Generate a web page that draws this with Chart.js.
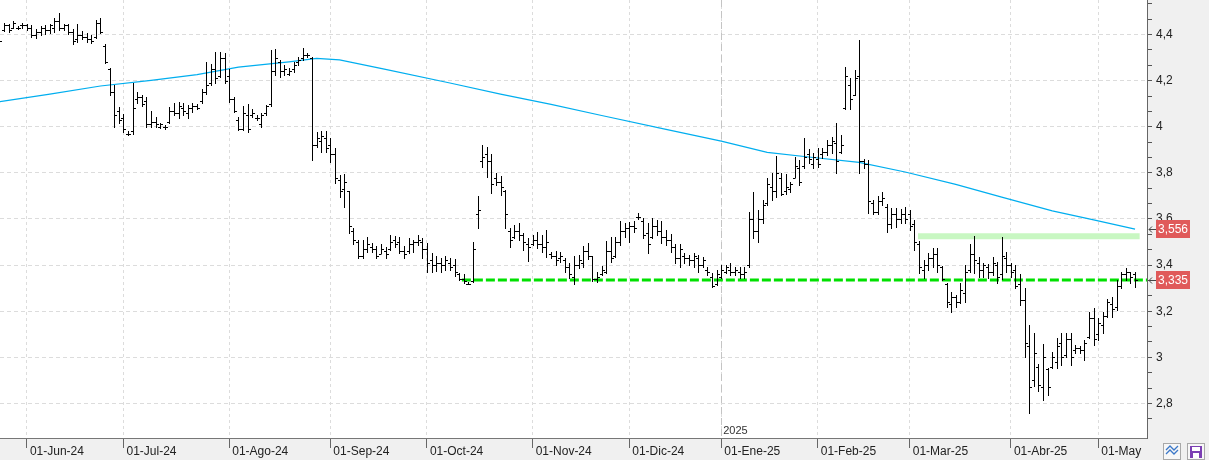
<!DOCTYPE html>
<html>
<head>
<meta charset="utf-8">
<script src="https://cdn.jsdelivr.net/npm/chart.js@4.4.1/dist/chart.umd.min.js"></script>
<style>
  html, body { margin: 0; padding: 0; background: #fff; }
  canvas { display: block; }
</style>
</head>
<body>
<canvas id="chart" width="1209" height="460"></canvas>
<script>
// daily bars, one per trading day (index 0 = 24-May-24)
const highs = [
  4.385, 4.45, 4.446, 4.459, 4.437, 4.45, 4.446, 4.442, 4.424, 4.437,
  4.442, 4.446, 4.472, 4.494, 4.446, 4.446, 4.424, 4.446, 4.416, 4.407,
  4.398, 4.463, 4.472, 4.36, 4.255, 4.181, 4.086, 4.055, 3.98, 4.19,
  4.15, 4.14, 4.129, 4.068, 4.042, 4.016, 4.008, 4.086, 4.103, 4.107,
  4.103, 4.094, 4.103, 4.099, 4.164, 4.281, 4.272, 4.324, 4.324, 4.32,
  4.25, 4.129, 4.042, 4.09, 4.099, 4.077, 4.051, 4.06, 4.094, 4.333,
  4.337, 4.29, 4.268, 4.255, 4.281, 4.303, 4.342, 4.32, 4.303, 3.977,
  3.981, 3.981, 3.951, 3.908, 3.79, 3.795, 3.721, 3.561, 3.509, 3.509,
  3.522, 3.496, 3.483, 3.491, 3.478, 3.53, 3.526, 3.522, 3.483, 3.517,
  3.509, 3.53, 3.517, 3.496, 3.452, 3.44, 3.43, 3.44, 3.43, 3.426,
  3.365, 3.361, 3.326, 3.5, 3.7, 3.921, 3.912, 3.882, 3.8, 3.786,
  3.726, 3.56, 3.574, 3.582, 3.539, 3.517, 3.53, 3.543, 3.53, 3.552,
  3.457, 3.461, 3.457, 3.43, 3.409, 3.44, 3.444, 3.483, 3.496, 3.44,
  3.37, 3.396, 3.504, 3.522, 3.522, 3.591, 3.582, 3.587, 3.591, 3.626,
  3.604, 3.582, 3.604, 3.595, 3.591, 3.552, 3.535, 3.491, 3.491, 3.452,
  3.444, 3.452, 3.444, 3.435, 3.391, 3.365, 3.378, 3.4, 3.4, 3.409,
  3.391, 3.391, 3.391, 3.63, 3.717, 3.639, 3.682, 3.78, 3.8, 3.873,
  3.8, 3.795, 3.76, 3.869, 3.856, 3.951, 3.903, 3.886, 3.908, 3.908,
  3.942, 3.955, 4.016, 3.964, 4.259, 4.212, 4.246, 4.376, 3.86, 3.856,
  3.682, 3.7, 3.717, 3.665, 3.647, 3.647, 3.643, 3.652, 3.639, 3.595,
  3.504, 3.422, 3.452, 3.474, 3.474, 3.396, 3.322, 3.283, 3.27, 3.322,
  3.4, 3.491, 3.526, 3.435, 3.409, 3.404, 3.435, 3.413, 3.522, 3.457,
  3.409, 3.4, 3.361, 3.3, 3.14, 3.105, 2.97, 3.057, 2.953, 3.023,
  3.084, 3.105, 3.105, 3.105, 3.053, 3.05, 3.075, 3.196, 3.214, 3.17,
  3.196, 3.253, 3.261, 3.335, 3.37, 3.387, 3.37, 3.37
];
const lows = [
  4.36, 4.415, 4.411, 4.429, 4.424, 4.429, 4.42, 4.39, 4.385, 4.398,
  4.403, 4.407, 4.411, 4.42, 4.42, 4.403, 4.359, 4.368, 4.381, 4.368,
  4.363, 4.385, 4.407, 4.277, 4.138, 4.0, 4.016, 3.977, 3.964, 3.97,
  4.103, 4.09, 4.0, 4.0, 4.0, 3.995, 3.99, 4.016, 4.051, 4.038,
  4.051, 4.038, 4.064, 4.077, 4.103, 4.142, 4.181, 4.19, 4.216, 4.19,
  4.107, 4.064, 3.986, 3.986, 3.977, 4.042, 4.03, 4.0, 4.051, 4.09,
  4.225, 4.216, 4.225, 4.225, 4.238, 4.268, 4.29, 4.303, 3.856, 3.912,
  3.89, 3.89, 3.847, 3.756, 3.695, 3.652, 3.54, 3.492, 3.43, 3.43,
  3.457, 3.457, 3.43, 3.452, 3.43, 3.465, 3.478, 3.452, 3.43, 3.452,
  3.457, 3.487, 3.43, 3.37, 3.37, 3.374, 3.37, 3.378, 3.378, 3.352,
  3.335, 3.322, 3.318, 3.326, 3.56, 3.826, 3.782, 3.713, 3.747, 3.704,
  3.56, 3.478, 3.517, 3.509, 3.465, 3.418, 3.487, 3.474, 3.457, 3.435,
  3.43, 3.4, 3.413, 3.37, 3.344, 3.318, 3.387, 3.391, 3.426, 3.331,
  3.326, 3.357, 3.365, 3.413, 3.435, 3.487, 3.522, 3.5, 3.543, 3.6,
  3.517, 3.452, 3.517, 3.53, 3.496, 3.487, 3.457, 3.409, 3.391, 3.409,
  3.4, 3.391, 3.37, 3.391, 3.357, 3.305, 3.313, 3.344, 3.365, 3.357,
  3.357, 3.344, 3.344, 3.391, 3.517, 3.5, 3.582, 3.66, 3.682, 3.695,
  3.704, 3.708, 3.717, 3.782, 3.747, 3.821, 3.843, 3.821, 3.826, 3.864,
  3.877, 3.886, 3.8, 3.886, 4.077, 4.077, 4.138, 3.8, 3.82, 3.626,
  3.621, 3.621, 3.66, 3.543, 3.561, 3.565, 3.582, 3.582, 3.552, 3.465,
  3.365, 3.344, 3.378, 3.391, 3.37, 3.335, 3.218, 3.196, 3.218, 3.235,
  3.24, 3.37, 3.365, 3.348, 3.348, 3.344, 3.357, 3.322, 3.339, 3.37,
  3.348, 3.3, 3.226, 3.0, 2.757, 2.875, 2.853, 2.814, 2.836, 2.953,
  2.953, 2.966, 3.0, 2.966, 3.018, 3.02, 2.988, 3.084, 3.053, 3.075,
  3.105, 3.174, 3.174, 3.205, 3.3, 3.335, 3.322, 3.305
];
const opens = [
  4.37, 4.42, 4.44, 4.43, 4.43, 4.44, 4.44, 4.43, 4.40, 4.41,
  4.43, 4.42, 4.43, 4.46, 4.43, 4.44, 4.41, 4.38, 4.40, 4.39,
  4.38, 4.39, 4.45, 4.35, 4.25, 4.15, 4.07, 4.04, 3.97, 3.98,
  4.12, 4.13, 4.11, 4.01, 4.02, 4.00, 4.00, 4.02, 4.07, 4.06,
  4.08, 4.06, 4.08, 4.09, 4.11, 4.15, 4.19, 4.25, 4.22, 4.30,
  4.22, 4.12, 4.03, 3.99, 4.05, 4.05, 4.04, 4.01, 4.06, 4.10,
  4.24, 4.28, 4.24, 4.23, 4.25, 4.28, 4.30, 4.31, 4.30, 3.92,
  3.94, 3.95, 3.92, 3.88, 3.77, 3.73, 3.72, 3.55, 3.50, 3.44,
  3.47, 3.48, 3.47, 3.45, 3.46, 3.47, 3.51, 3.50, 3.46, 3.46,
  3.49, 3.50, 3.50, 3.47, 3.42, 3.40, 3.41, 3.40, 3.41, 3.40,
  3.36, 3.34, 3.32, 3.33, 3.62, 3.85, 3.88, 3.85, 3.78, 3.76,
  3.72, 3.55, 3.52, 3.55, 3.53, 3.49, 3.49, 3.51, 3.49, 3.48,
  3.45, 3.44, 3.43, 3.42, 3.39, 3.35, 3.40, 3.41, 3.46, 3.44,
  3.34, 3.36, 3.37, 3.46, 3.44, 3.50, 3.55, 3.56, 3.57, 3.61,
  3.59, 3.54, 3.52, 3.57, 3.55, 3.52, 3.51, 3.48, 3.43, 3.44,
  3.43, 3.42, 3.43, 3.40, 3.38, 3.35, 3.32, 3.35, 3.37, 3.38,
  3.37, 3.37, 3.36, 3.40, 3.60, 3.55, 3.60, 3.67, 3.74, 3.72,
  3.78, 3.72, 3.73, 3.78, 3.82, 3.83, 3.88, 3.84, 3.86, 3.88,
  3.89, 3.92, 3.93, 3.89, 4.08, 4.18, 4.14, 4.22, 3.85, 3.84,
  3.67, 3.63, 3.68, 3.65, 3.58, 3.62, 3.60, 3.62, 3.62, 3.58,
  3.49, 3.38, 3.40, 3.43, 3.45, 3.39, 3.32, 3.23, 3.26, 3.24,
  3.28, 3.38, 3.45, 3.41, 3.38, 3.39, 3.37, 3.40, 3.36, 3.43,
  3.40, 3.38, 3.32, 3.25, 3.05, 2.90, 2.96, 2.87, 2.95, 2.96,
  2.98, 3.06, 3.01, 3.08, 3.03, 3.04, 3.03, 3.09, 3.17, 3.10,
  3.14, 3.18, 3.23, 3.22, 3.31, 3.36, 3.37, 3.36
];
const closes = [
  4.37, 4.44, 4.42, 4.45, 4.43, 4.44, 4.43, 4.40, 4.41, 4.43,
  4.42, 4.44, 4.46, 4.43, 4.44, 4.41, 4.37, 4.40, 4.39, 4.38,
  4.37, 4.45, 4.41, 4.28, 4.15, 4.05, 4.03, 3.99, 3.97, 4.08,
  4.13, 4.10, 4.01, 4.02, 4.01, 4.01, 4.00, 4.07, 4.06, 4.09,
  4.07, 4.08, 4.09, 4.08, 4.15, 4.18, 4.25, 4.21, 4.30, 4.20,
  4.12, 4.07, 3.99, 4.06, 3.99, 4.06, 4.04, 4.05, 4.09, 4.24,
  4.30, 4.24, 4.25, 4.24, 4.27, 4.29, 4.31, 4.31, 3.92, 3.95,
  3.96, 3.91, 3.88, 3.78, 3.72, 3.76, 3.57, 3.51, 3.44, 3.47,
  3.49, 3.47, 3.44, 3.47, 3.45, 3.50, 3.49, 3.46, 3.45, 3.49,
  3.50, 3.51, 3.47, 3.41, 3.40, 3.41, 3.40, 3.42, 3.39, 3.37,
  3.34, 3.33, 3.32, 3.47, 3.64, 3.87, 3.85, 3.75, 3.76, 3.74,
  3.62, 3.51, 3.55, 3.53, 3.50, 3.48, 3.51, 3.49, 3.48, 3.50,
  3.44, 3.42, 3.44, 3.39, 3.36, 3.40, 3.42, 3.46, 3.44, 3.34,
  3.35, 3.38, 3.46, 3.43, 3.50, 3.55, 3.56, 3.57, 3.56, 3.61,
  3.53, 3.49, 3.57, 3.55, 3.52, 3.51, 3.48, 3.43, 3.47, 3.43,
  3.42, 3.44, 3.40, 3.42, 3.37, 3.31, 3.36, 3.38, 3.39, 3.37,
  3.38, 3.36, 3.37, 3.60, 3.55, 3.60, 3.66, 3.75, 3.72, 3.80,
  3.71, 3.74, 3.75, 3.83, 3.76, 3.87, 3.86, 3.87, 3.84, 3.89,
  3.92, 3.94, 3.85, 3.92, 4.22, 4.12, 4.21, 3.85, 3.84, 3.68,
  3.63, 3.68, 3.69, 3.58, 3.62, 3.60, 3.62, 3.60, 3.57, 3.50,
  3.39, 3.40, 3.43, 3.45, 3.40, 3.34, 3.24, 3.26, 3.24, 3.29,
  3.37, 3.45, 3.42, 3.38, 3.40, 3.37, 3.41, 3.35, 3.44, 3.40,
  3.37, 3.31, 3.25, 3.06, 2.87, 3.02, 2.88, 3.00, 2.87, 3.00,
  3.05, 3.00, 3.08, 3.00, 3.04, 3.03, 3.06, 3.17, 3.08, 3.15,
  3.18, 3.24, 3.21, 3.31, 3.36, 3.37, 3.35, 3.335
];

// moving average read at a few bar indexes
const maIndex = [0, 11, 22, 33, 43, 52, 63, 69, 74, 84, 98, 109, 120, 131, 145, 157, 167, 176, 187, 197, 208, 218, 229, 238, 247];
const maValues = [4.109, 4.142, 4.177, 4.201, 4.226, 4.259, 4.282, 4.297, 4.29, 4.249, 4.19, 4.142, 4.097, 4.049, 3.989, 3.938, 3.889, 3.869, 3.846, 3.804, 3.75, 3.695, 3.635, 3.596, 3.556];

const monthTicks = [6, 27, 50, 72, 93, 116, 137, 157, 178, 198, 220, 239];
const monthLabels = ['01-Jun-24', '01-Jul-24', '01-Ago-24', '01-Sep-24', '01-Oct-24', '01-Nov-24', '01-Dic-24', '01-Ene-25', '01-Feb-25', '01-Mar-25', '01-Abr-25', '01-May'];
const yearTick = 157;
const yearLabel = '2025';
const yMajor = [2.8, 3, 3.2, 3.4, 3.6, 3.8, 4, 4.2, 4.4];

const supportLevel = 3.335, supportFrom = 100.6;
const resistLevel = 3.525, resistFrom = 199.8, resistTo = 248;
const lastMa = 3.556, lastClose = 3.335;

const FONT = "'Liberation Sans', Arial, sans-serif";
const isMajor = v => yMajor.some(m => Math.abs(m - v) < 1e-6);
const fmt = v => String(+v.toFixed(3)).replace('.', ',');

const bgPlugin = {
  id: 'bg',
  beforeDraw(chart) {
    const { ctx, chartArea: a } = chart;
    ctx.save();
    ctx.fillStyle = '#f0f0f0';
    ctx.fillRect(0, 0, chart.width, chart.height);
    ctx.fillStyle = '#ffffff';
    ctx.fillRect(a.left, a.top, a.right - a.left, a.bottom - a.top);
    ctx.restore();
  },
  beforeDatasetsDraw(chart) {
    // year separator
    const { ctx, chartArea: a } = chart;
    const x = Math.round(chart.scales.x.getPixelForValue(yearTick)) + 0.5;
    ctx.save();
    ctx.strokeStyle = '#c4c4c4';
    ctx.setLineDash([7, 4]);
    ctx.beginPath();
    ctx.moveTo(x, a.top);
    ctx.lineTo(x, a.bottom);
    ctx.stroke();
    ctx.restore();
  }
};

const ohlcPlugin = {
  id: 'ohlc',
  afterDatasetsDraw(chart) {
    const { ctx, chartArea: a } = chart;
    const xs = chart.scales.x, ys = chart.scales.y;
    ctx.save();
    ctx.beginPath();
    ctx.rect(a.left, a.top, a.right - a.left, a.bottom - a.top);
    ctx.clip();
    ctx.strokeStyle = '#000';
    ctx.lineWidth = 1;
    ctx.beginPath();
    for (let i = 0; i < highs.length; i++) {
      const x = Math.round(xs.getPixelForValue(i)) + 0.5;
      const yh = Math.round(ys.getPixelForValue(highs[i]));
      const yl = Math.round(ys.getPixelForValue(lows[i]));
      const yo = Math.round(ys.getPixelForValue(opens[i])) + 0.5;
      const yc = Math.round(ys.getPixelForValue(closes[i])) + 0.5;
      ctx.moveTo(x, yh);
      ctx.lineTo(x, Math.max(yl, yh + 1) + 1);
      ctx.moveTo(x - 2.5, yo);
      ctx.lineTo(x, yo);
      ctx.moveTo(x, yc);
      ctx.lineTo(x + 2.5, yc);
    }
    ctx.stroke();
    ctx.restore();
  },
  afterDraw(chart) {
    const { ctx, chartArea: a } = chart;
    const xs = chart.scales.x, ys = chart.scales.y;
    ctx.save();
    // month labels
    ctx.fillStyle = '#222';
    ctx.font = '12px ' + FONT;
    ctx.textAlign = 'left';
    ctx.textBaseline = 'middle';
    monthTicks.forEach((t, i) => {
      ctx.fillText(monthLabels[i], xs.getPixelForValue(t) + 3, a.bottom + 14);
    });
    ctx.font = '11px ' + FONT;
    ctx.fillStyle = '#333';
    ctx.fillText(yearLabel, xs.getPixelForValue(yearTick) + 2, a.bottom - 7);

    // price tags on the axis
    [lastMa, lastClose].forEach(v => {
      const y = Math.round(ys.getPixelForValue(v));
      ctx.strokeStyle = '#444';
      ctx.lineWidth = 1;
      ctx.beginPath();
      ctx.moveTo(a.right + 2, y + 0.5);
      ctx.lineTo(a.right + 9, y + 0.5);
      ctx.moveTo(a.right + 5, y - 2.5);
      ctx.lineTo(a.right + 2, y + 0.5);
      ctx.lineTo(a.right + 5, y + 3.5);
      ctx.stroke();
      ctx.fillStyle = '#e05a5a';
      ctx.fillRect(a.right + 9, y - 9, 34, 18);
      ctx.fillStyle = '#fff';
      ctx.font = '12px ' + FONT;
      ctx.textAlign = 'center';
      ctx.fillText(fmt(v), a.right + 26, y + 1);
    });

    // small buttons in the corner
    const by = a.bottom + 5;
    ctx.fillStyle = '#f7f7f7';
    ctx.strokeStyle = '#a8a8a8';
    ctx.fillRect(1163.5, by + 0.5, 17, 16);
    ctx.strokeRect(1163.5, by + 0.5, 17, 16);
    ctx.fillRect(1187.5, by + 0.5, 17, 16);
    ctx.strokeRect(1187.5, by + 0.5, 17, 16);
    ctx.strokeStyle = '#3b78c8';
    ctx.lineWidth = 1.3;
    [5, 9].forEach(d => {
      ctx.beginPath();
      ctx.moveTo(1166, by + d + 2);
      ctx.lineTo(1170, by + d - 2);
      ctx.lineTo(1174, by + d + 2);
      ctx.lineTo(1178, by + d - 2);
      ctx.stroke();
    });
    ctx.fillStyle = '#7b3fb3';
    ctx.fillRect(1190, by + 3, 12, 12);
    ctx.fillStyle = '#fff';
    ctx.fillRect(1192, by + 4, 8, 4);
    ctx.fillRect(1193, by + 10, 6, 5);
    ctx.restore();
  }
};

new Chart(document.getElementById('chart'), {
  type: 'line',
  data: {
    datasets: [
      {
        data: [{ x: resistFrom, y: resistLevel }, { x: resistTo, y: resistLevel }],
        borderColor: '#c8f7c2', borderWidth: 6, pointRadius: 0
      },
      {
        data: [{ x: supportFrom, y: supportLevel }, { x: 249.6, y: supportLevel }],
        borderColor: '#00e000', borderWidth: 3, borderDash: [9, 3], pointRadius: 0
      },
      {
        data: maIndex.map((x, i) => ({ x: x, y: maValues[i] })),
        borderColor: '#00aeef', borderWidth: 1.2, pointRadius: 0, tension: 0
      }
    ]
  },
  options: {
    responsive: false,
    animation: false,
    events: [],
    layout: { padding: 0 },
    plugins: { legend: { display: false }, tooltip: { enabled: false } },
    scales: {
      x: {
        type: 'linear', min: 0.15, max: 249.6,
        afterBuildTicks: s => { s.ticks = monthTicks.map(v => ({ value: v })); },
        afterFit: s => { s.height = 22; s.paddingLeft = 0; s.paddingRight = 0; },
        ticks: { display: false },
        grid: { color: '#dcdcdc', tickColor: '#666', tickLength: 10 },
        border: { color: '#777', dash: [3, 3] }
      },
      y: {
        type: 'linear', position: 'right', min: 2.65, max: 4.55,
        afterBuildTicks: s => {
          const t = [];
          yMajor.forEach(m => { t.push({ value: m - 0.2 / 3 }, { value: m }, { value: m + 0.2 / 3 }); });
          t.push({ value: 4.4 + 0.4 / 3 });
          s.ticks = t.filter(k => k.value > 2.65 && k.value < 4.55).sort((p, q) => p.value - q.value);
        },
        afterFit: s => { s.width = 62; s.paddingTop = 0; s.paddingBottom = 0; },
        ticks: {
          autoSkip: false, padding: 4, color: '#222',
          font: { family: FONT, size: 12 },
          callback: v => isMajor(v) ? String(+v.toFixed(1)).replace('.', ',') : ''
        },
        grid: {
          color: c => (c.tick && isMajor(c.tick.value)) ? '#dcdcdc' : 'rgba(0,0,0,0)',
          tickColor: '#555', tickLength: 5
        },
        border: { color: '#666', dash: [4, 3] }
      }
    }
  },
  plugins: [bgPlugin, ohlcPlugin]
});
</script>
</body>
</html>
